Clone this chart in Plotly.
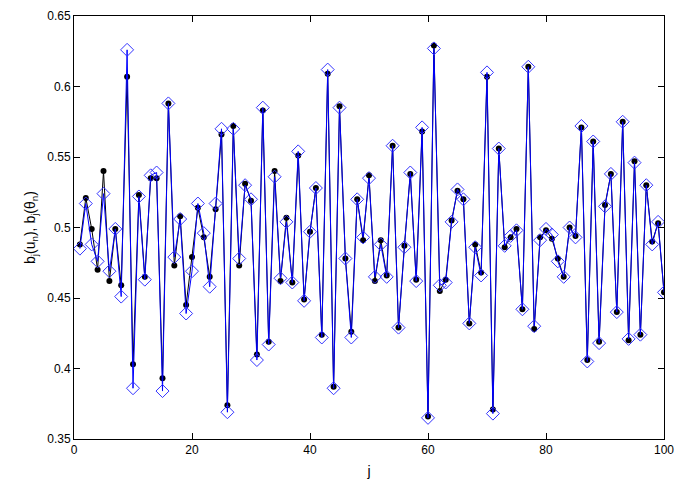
import plotly.graph_objects as go

j = list(range(1, 101))

b_u = [
    0.488, 0.521, 0.499, 0.470, 0.540, 0.462, 0.499, 0.459, 0.607, 0.403,
    0.523, 0.465, 0.535, 0.535, 0.393, 0.588, 0.473, 0.508, 0.445, 0.479,
    0.514, 0.493, 0.465, 0.513, 0.566, 0.374, 0.572, 0.473, 0.531, 0.519,
    0.410, 0.583, 0.419, 0.540, 0.462, 0.507, 0.461, 0.551, 0.449, 0.497,
    0.528, 0.424, 0.609, 0.387, 0.586, 0.478, 0.426, 0.520, 0.491, 0.537,
    0.462, 0.491, 0.466, 0.558, 0.429, 0.487, 0.538, 0.463, 0.568, 0.366,
    0.629, 0.455, 0.463, 0.505, 0.526, 0.520, 0.432, 0.488, 0.468, 0.607,
    0.371, 0.556, 0.486, 0.493, 0.499, 0.442, 0.614, 0.428, 0.493, 0.498,
    0.492, 0.478, 0.465, 0.500, 0.494, 0.571, 0.406, 0.561, 0.419, 0.516,
    0.538, 0.440, 0.575, 0.420, 0.547, 0.424, 0.530, 0.490, 0.503, 0.454,
]

b_theta = [
    0.485, 0.517, 0.488, 0.476, 0.524, 0.469, 0.499, 0.451, 0.626, 0.386,
    0.522, 0.463, 0.537, 0.539, 0.384, 0.588, 0.479, 0.506, 0.439, 0.469,
    0.517, 0.496, 0.458, 0.517, 0.570, 0.369, 0.570, 0.478, 0.530, 0.520,
    0.406, 0.585, 0.417, 0.536, 0.464, 0.504, 0.461, 0.554, 0.448, 0.497,
    0.528, 0.422, 0.612, 0.386, 0.585, 0.478, 0.422, 0.520, 0.493, 0.535,
    0.465, 0.488, 0.465, 0.558, 0.429, 0.486, 0.539, 0.462, 0.571, 0.365,
    0.627, 0.459, 0.461, 0.504, 0.527, 0.520, 0.432, 0.486, 0.466, 0.610,
    0.368, 0.556, 0.487, 0.494, 0.498, 0.442, 0.614, 0.430, 0.491, 0.499,
    0.495, 0.476, 0.465, 0.500, 0.493, 0.572, 0.405, 0.561, 0.418, 0.515,
    0.538, 0.440, 0.575, 0.421, 0.546, 0.424, 0.530, 0.488, 0.504, 0.454,
]

x_ticks = [0, 20, 40, 60, 80, 100]
y_ticks = [0.35, 0.4, 0.45, 0.5, 0.55, 0.6, 0.65]
y_tick_text = ["0.35", "0.4", "0.45", "0.5", "0.55", "0.6", "0.65"]

fig = go.Figure()
fig.add_trace(go.Scatter(
    x=j, y=b_u, mode="lines+markers", name="b_j(u_n)",
    line=dict(color="black", width=1),
    marker=dict(symbol="circle", size=6, color="black"),
))
fig.add_trace(go.Scatter(
    x=j, y=b_theta, mode="lines+markers", name="b_j(theta_n)",
    line=dict(color="#0000ff", width=1),
    marker=dict(symbol="diamond-open", size=10, color="#3333ff",
                line=dict(width=1, color="#3333ff")),
))

axis_style = dict(
    showline=True, linecolor="black", linewidth=1, mirror="allticks",
    ticks="inside", ticklen=6, tickcolor="black", showgrid=False,
    zeroline=False, automargin=False,
)
# page body has an 8px default margin, so the figure is sized/offset for it
fig.update_layout(
    width=680, height=474,
    margin=dict(l=66, r=24, t=8, b=43),
    paper_bgcolor="white", plot_bgcolor="white",
    font=dict(family="Liberation Sans, Arial, sans-serif", size=12, color="black"),
    showlegend=False,
    xaxis=dict(range=[0, 100], tickvals=x_ticks, title=dict(text="j", standoff=9),
               **axis_style),
    yaxis=dict(range=[0.35, 0.65], tickvals=y_ticks, ticktext=y_tick_text,
               title=dict(text="b<sub>j</sub>(u<sub>n</sub>), b<sub>j</sub>(θ<sub>n</sub>)",
                          standoff=8),
               **axis_style),
)

fig.write_html("out.html")
